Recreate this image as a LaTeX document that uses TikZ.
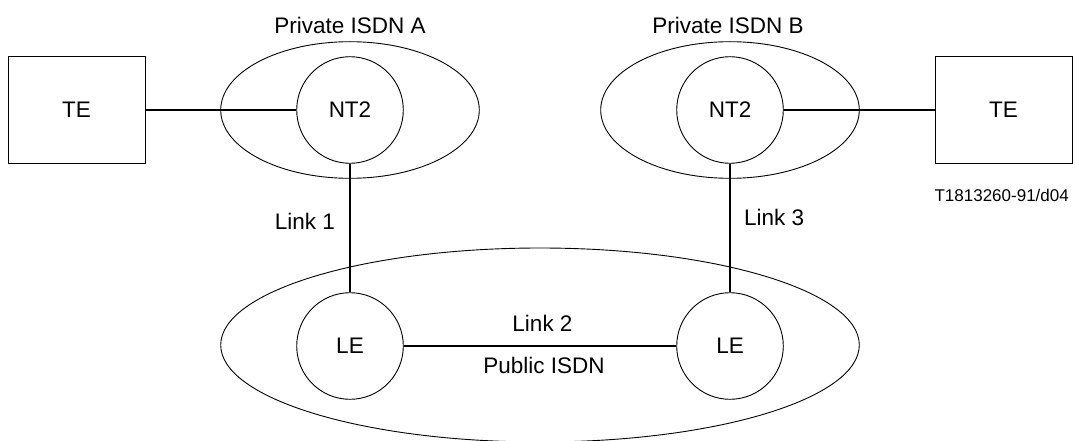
\documentclass[tikz,border=0pt]{standalone}
\usepackage{fontspec}
\setmainfont{Liberation Sans}
\usetikzlibrary{shapes.geometric}
\begin{document}
\begin{tikzpicture}[x=1pt,y=-1pt,
  lbl/.style={font=\fontsize{22.5}{27}\selectfont, inner sep=0pt},
  small/.style={font=\fontsize{17}{20}\selectfont, inner sep=0pt},
  tebox/.style={draw, line width=1pt, rectangle, minimum width=137pt, minimum height=106.6pt, inner sep=0pt, font=\fontsize{22.5}{27}\selectfont},
  dev/.style={draw, line width=0.9pt, circle, minimum size=106.6pt, inner sep=0pt, font=\fontsize{22.5}{27}\selectfont},
  net/.style={draw, line width=0.9pt, ellipse, inner sep=0pt},
  conn/.style={line width=1.6pt}]
\useasboundingbox (0,0) rectangle (1075,441);
\clip (0,0) rectangle (1075,441);
% networks
\node[net, minimum width=258.6pt, minimum height=136.6pt] (privA) at (350,110) {};
\node[net, minimum width=258.6pt, minimum height=136.6pt] (privB) at (730,110) {};
\node[net, minimum width=638.6pt, minimum height=194pt] (pub) at (540,345) {};
% devices
\node[tebox] (teA) at (76.5,110) {TE};
\node[tebox] (teB) at (1003.5,110) {TE};
\node[dev] (ntA) at (350,110) {NT2};
\node[dev] (ntB) at (730,110) {NT2};
\node[dev] (leA) at (350,346) {LE};
\node[dev] (leB) at (730,346) {LE};
% connectors
\draw[conn] (teA) -- (ntA);
\draw[conn] (ntB) -- (teB);
\draw[conn] (ntA) -- (leA);
\draw[conn] (ntB) -- (leB);
\draw[conn] (leA) -- (leB);
% labels
\node[lbl, anchor=base] (tA) at (350,33.3) {Private ISDN A};
\node[lbl, anchor=base] (tB) at (728,33.3) {Private ISDN B};
\node[lbl, anchor=base east] (l1) at (335,229) {Link 1};
\node[lbl, anchor=base west] (l3) at (744,225) {Link 3};
\node[lbl, anchor=base] (l2) at (542.5,331) {Link 2};
\node[lbl, anchor=base] (pi) at (544,373) {Public ISDN};
\node[small, anchor=base east] (ref) at (1069,201) {T1813260-91/d04};
\end{tikzpicture}
\end{document}
